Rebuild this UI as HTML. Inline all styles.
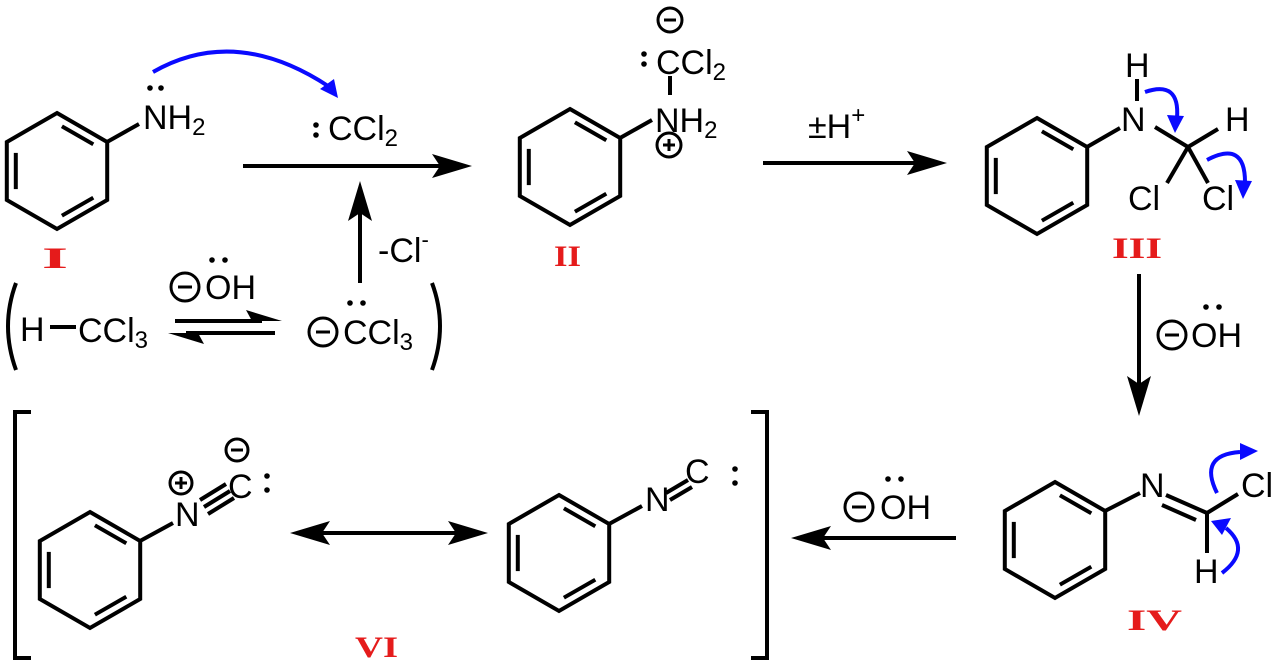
<!DOCTYPE html>
<html><head><meta charset="utf-8"><style>
html,body{margin:0;padding:0;background:#fff}
svg{display:block}
text{font-family:"Liberation Sans",Arial,sans-serif;font-size:34px;fill:#000}
.r{font-family:"Liberation Serif",serif;font-weight:bold;fill:#e51b1b;font-size:30px}
</style></head><body>
<svg width="1280" height="668" viewBox="0 0 1280 668" xmlns="http://www.w3.org/2000/svg">
<defs>
<g id="ring" fill="none" stroke="#000" stroke-width="4" stroke-linejoin="miter">
<polygon points="0,-58 50.2,-29 50.2,29 0,58 -50.2,29 -50.2,-29"/>
<line x1="4.9" y1="-44.7" x2="36.3" y2="-26.7"/>
<line x1="-41.2" y1="-18.1" x2="-41.2" y2="18.1"/>
<line x1="36.3" y1="26.7" x2="4.9" y2="44.7"/>
</g>
</defs>
<g stroke="#000" stroke-width="4" fill="none">
<use href="#ring" x="57" y="171"/>
<line x1="107" y1="142" x2="139" y2="124"/>
<use href="#ring" x="570" y="167"/>
<line x1="620" y1="138" x2="652" y2="120"/>
<line x1="670" y1="76" x2="670" y2="95"/>
<use href="#ring" x="1037" y="176"/>
<line x1="1087" y1="147" x2="1120" y2="128"/>
<line x1="1137" y1="79" x2="1137" y2="101"/>
<line x1="1155" y1="127" x2="1188" y2="147"/>
<line x1="1188" y1="147" x2="1218" y2="129"/>
<line x1="1188" y1="147" x2="1167" y2="183"/>
<line x1="1188" y1="147" x2="1208" y2="183"/>
<use href="#ring" x="1055" y="540"/>
<line x1="1105" y1="511" x2="1140" y2="493"/>
<line x1="1166" y1="495" x2="1207" y2="513"/>
<line x1="1162" y1="505" x2="1196" y2="520"/>
<line x1="1207" y1="513" x2="1238" y2="494"/>
<line x1="1207" y1="513" x2="1207" y2="553"/>
<use href="#ring" x="90" y="570"/>
<line x1="140" y1="541" x2="173" y2="523"/>
<line x1="200" y1="500" x2="226" y2="484"/>
<line x1="204" y1="507" x2="230" y2="491"/>
<line x1="208" y1="514" x2="234" y2="498"/>
<use href="#ring" x="559" y="553"/>
<line x1="609" y1="524" x2="642" y2="506"/>
<line x1="666" y1="493" x2="688" y2="480"/>
<line x1="670" y1="500" x2="692" y2="487"/>
<line x1="243" y1="166" x2="440" y2="166"/>
<line x1="360" y1="283" x2="360" y2="210"/>
<line x1="763" y1="163" x2="915" y2="163"/>
<line x1="1139" y1="274" x2="1139" y2="385"/>
<line x1="956" y1="538" x2="822" y2="538"/>
<line x1="318" y1="533" x2="460" y2="533"/>
<line x1="175" y1="321" x2="262" y2="321"/>
<line x1="186" y1="333" x2="275" y2="333"/>
<path d="M16,283 Q0,326 16,370"/>
<path d="M432,283 Q448,326 432,370"/>
<polyline points="31,412 15,412 15,658 31,658"/>
<polyline points="751,412 767,412 767,658 751,658"/>
<line x1="50" y1="327" x2="76" y2="327"/>
</g>
<g fill="#000">
<polygon points="472,166 432,154 440,166 432,178"/>
<polygon points="360,181 348,221 360,213 372,221"/>
<polygon points="947,163 907,151 915,163 907,175"/>
<polygon points="1139,416 1127,376 1139,384 1151,376"/>
<polygon points="791,538 831,526 823,538 831,550"/>
<polygon points="290,533 330,521 322,533 330,545"/>
<polygon points="488,533 448,521 456,533 448,545"/>
<polygon points="282,321 246,310 252,321"/>
<polygon points="168,333 204,344 198,333"/>
<circle cx="150" cy="88" r="2.8"/><circle cx="161" cy="88" r="2.8"/>
<circle cx="316" cy="125" r="2.8"/><circle cx="316" cy="135" r="2.8"/>
<circle cx="212" cy="260" r="2.8"/><circle cx="225" cy="260" r="2.8"/>
<circle cx="350" cy="303" r="2.8"/><circle cx="363" cy="303" r="2.8"/>
<circle cx="644" cy="54" r="2.8"/><circle cx="644" cy="64" r="2.8"/>
<circle cx="1206" cy="307" r="2.8"/><circle cx="1219" cy="307" r="2.8"/>
<circle cx="888" cy="479" r="2.8"/><circle cx="901" cy="479" r="2.8"/>
<circle cx="267" cy="476" r="2.8"/><circle cx="267" cy="490" r="2.8"/>
<circle cx="735" cy="469" r="2.8"/><circle cx="735" cy="483" r="2.8"/>
</g>
<g fill="none" stroke="#000" stroke-width="3">
<circle cx="185" cy="287" r="14"/><line x1="178" y1="287" x2="192" y2="287"/>
<circle cx="323" cy="332" r="14"/><line x1="316" y1="332" x2="330" y2="332"/>
<circle cx="670" cy="20" r="12"/><line x1="664" y1="20" x2="676" y2="20"/>
<circle cx="669" cy="145" r="12"/><line x1="663" y1="145" x2="675" y2="145"/><line x1="669" y1="139" x2="669" y2="151"/>
<circle cx="1172" cy="335" r="14"/><line x1="1165" y1="335" x2="1179" y2="335"/>
<circle cx="859" cy="507" r="14"/><line x1="852" y1="507" x2="866" y2="507"/>
<circle cx="181" cy="483" r="11"/><line x1="175" y1="483" x2="187" y2="483"/><line x1="181" y1="477" x2="181" y2="489"/>
<circle cx="237" cy="450" r="11"/><line x1="231" y1="450" x2="243" y2="450"/>
</g>
<g fill="none" stroke="#0a0aff" stroke-width="4">
<path d="M153,72 Q235,25 328,86"/>
<path d="M1145,92 Q1180,80 1177,118"/>
<path d="M1207,160 Q1245,140 1245,182"/>
<path d="M1217,493 Q1198,455 1240,452"/>
<path d="M1222,573 Q1252,550 1226,528"/>
</g>
<g fill="#0a0aff">
<polygon points="338,98 320,89 334,79"/>
<polygon points="1175,133 1167,115 1184,116"/>
<polygon points="1243,199 1235,180 1252,181"/>
<polygon points="1258,451 1240,443 1240,460"/>
<polygon points="1211,521 1231,518 1222,535"/>
</g>
<text x="143" y="129">NH<tspan font-size="24" dy="6">2</tspan></text>
<text x="328" y="140">CCl<tspan font-size="24" dy="6">2</tspan></text>
<text x="378" y="262">-Cl<tspan font-size="22" dy="-15">-</tspan></text>
<text x="205" y="299">OH</text>
<text x="20" y="341">H</text>
<text x="78" y="342">CCl<tspan font-size="24" dy="6">3</tspan></text>
<text x="343" y="344">CCl<tspan font-size="24" dy="6">3</tspan></text>
<text x="655" y="132">NH<tspan font-size="24" dy="6">2</tspan></text>
<text x="656" y="74">CCl<tspan font-size="24" dy="6">2</tspan></text>
<text x="808" y="138">±H<tspan font-size="24" dy="-15">+</tspan></text>
<text x="1125" y="77" font-size="32">H</text>
<text x="1121" y="131" font-size="32">N</text>
<text x="1225" y="131" font-size="32">H</text>
<text x="1128" y="210" font-size="32">Cl</text>
<text x="1202" y="210" font-size="32">Cl</text>
<text x="1191" y="347">OH</text>
<text x="880" y="519">OH</text>
<text x="1140" y="497" font-size="32">N</text>
<text x="1241" y="497" font-size="32">Cl</text>
<text x="1194" y="583" font-size="32">H</text>
<text x="175" y="526" font-size="32">N</text>
<text x="228" y="498" font-size="32">C</text>
<text x="645" y="511" font-size="32">N</text>
<text x="685" y="483" font-size="32">C</text>
<text class="r" x="42" y="268" textLength="26" lengthAdjust="spacingAndGlyphs">I</text>
<text class="r" x="554" y="266" textLength="27" lengthAdjust="spacingAndGlyphs">II</text>
<text class="r" x="1112" y="258" textLength="50" lengthAdjust="spacingAndGlyphs" font-size="26">III</text>
<text class="r" x="1127" y="630" textLength="55" lengthAdjust="spacingAndGlyphs" font-size="30">IV</text>
<text class="r" x="355" y="657" textLength="43" lengthAdjust="spacingAndGlyphs" font-size="32">VI</text>
</svg>
</body></html>
